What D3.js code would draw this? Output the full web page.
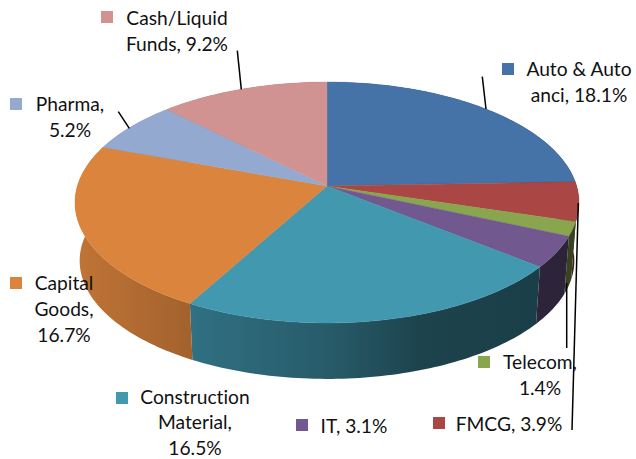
<!DOCTYPE html>
<html>
<head>
<meta charset="utf-8">
<script src="https://d3js.org/d3.v7.min.js"></script>
<style>
  html, body { margin: 0; padding: 0; background: #fff; }
  text { font-family: Lato, "Open Sans", sans-serif; font-size: 19.2px; fill: #111; font-variant-ligatures: none; }
</style>
</head>
<body>
<svg id="chart" width="636" height="459"></svg>
<script>
// sectors in drawing order, clockwise from 12 o'clock
var sectors = ['Auto & Auto anci', 'FMCG', 'Telecom', 'IT', 'Construction Material', 'Capital Goods', 'Pharma', 'Cash/Liquid Funds'];
var weights = [18.1, 3.9, 1.4, 3.1, 16.5, 16.7, 5.2, 9.2];
var colors = ['#4572a7', '#aa4643', '#89a54e', '#71588f', '#4198af', '#db843d', '#93a9cf', '#d19392'];

// label lines, text anchored in the middle, then the key square
var labelLines = [
  ['Auto & Auto', 'anci, 18.1%'],
  ['FMCG, 3.9%'],
  ['Telecom,', '1.4%'],
  ['IT, 3.1%'],
  ['Construction', 'Material,', '16.5%'],
  ['Capital', 'Goods,', '16.7%'],
  ['Pharma,', '5.2%'],
  ['Cash/Liquid', 'Funds, 9.2%']
];
var labelX = [579, 509, 540, 354, 195, 64, 70, 177];
var labelY = [76, 431, 369, 433, 403.5, 290, 111, 25];
var keyX = [502, 433, 478, 296, 116, 10, 10, 101];
var keyY = [63, 417, 356, 419, 392, 277, 98, 11];

// leader lines [x1, y1, x2, y2]
var leaders = [
  [482.3, 76.7, 486, 109],
  [578.3, 203, 572, 430],
  [566.7, 283, 566.7, 348],
  [118.3, 111.7, 129.3, 128.3],
  [237.3, 50.7, 241.3, 89.3]
];

var svg = d3.select('#chart');
var cx = 327;
var k = 0.137; // perspective

// top plate and bottom plate of the disc
var topPlate = { y0: 186, rx: 249.6, ry: 118.2 };
var bottomPlate = { y0: 244.5, rx: 245, ry: 116 };

function project(plate, a) {
  var u = Math.sin(a), v = -Math.cos(a);
  var d = 1 - k * v;
  return [cx + plate.rx * u / d, plate.y0 + plate.ry * v / d];
}

function rim(plate, a0, a1) {
  var n = Math.max(2, Math.ceil(Math.abs(a1 - a0) / 0.02));
  return d3.range(n + 1).map(function(i) {
    return project(plate, a0 + (a1 - a0) * i / n);
  });
}

var line = d3.line();
var arcs = d3.pie().sort(null)(weights);

// side lighting goes dark to the right
var wallShade = d3.scaleLinear()
  .domain([75, 192, 330, 420, 579])
  .range([0.88, 0.74, 0.60, 0.44, 0.40]);

var defs = svg.append('defs');
colors.forEach(function(c, i) {
  var g = defs.append('linearGradient')
    .attr('id', 'wall' + i)
    .attr('gradientUnits', 'userSpaceOnUse')
    .attr('x1', 75).attr('x2', 579).attr('y1', 0).attr('y2', 0);
  wallShade.domain().forEach(function(x) {
    var rgb = d3.rgb(c), s = wallShade(x);
    g.append('stop')
      .attr('offset', (x - 75) / 504)
      .attr('stop-color', d3.rgb(rgb.r * s, rgb.g * s, rgb.b * s));
  });
});

// walls first, the top plate covers whatever is behind
svg.append('g').selectAll('path')
  .data(arcs)
  .enter()
  .append('path')
  .attr('d', function(d) {
    var pts = rim(topPlate, d.startAngle, d.endAngle)
      .concat(rim(bottomPlate, d.endAngle, d.startAngle));
    return line(pts) + 'Z';
  })
  .attr('fill', function(d, i) { return 'url(#wall' + i + ')'; });

svg.append('g').selectAll('path')
  .data(arcs)
  .enter()
  .append('path')
  .attr('d', function(d) {
    var pts = [[cx, topPlate.y0]].concat(rim(topPlate, d.startAngle, d.endAngle));
    return line(pts) + 'Z';
  })
  .attr('fill', function(d, i) { return colors[i]; })
  .attr('stroke', function(d, i) { return colors[i]; })
  .attr('stroke-width', 0.4);

svg.append('g').selectAll('line')
  .data(leaders)
  .enter()
  .append('line')
  .attr('x1', function(d) { return d[0]; })
  .attr('y1', function(d) { return d[1]; })
  .attr('x2', function(d) { return d[2]; })
  .attr('y2', function(d) { return d[3]; })
  .attr('stroke', '#000')
  .attr('stroke-width', 1.5);

svg.append('g').selectAll('rect')
  .data(sectors)
  .enter()
  .append('rect')
  .attr('x', function(d, i) { return keyX[i]; })
  .attr('y', function(d, i) { return keyY[i]; })
  .attr('width', 12)
  .attr('height', 12)
  .attr('fill', function(d, i) { return colors[i]; });

var labels = svg.append('g').selectAll('text')
  .data(labelLines)
  .enter()
  .append('text')
  .attr('text-anchor', 'middle')
  .attr('transform', function(d, i) { return 'translate(' + labelX[i] + ',' + labelY[i] + ')'; });

labels.selectAll('tspan')
  .data(function(d) { return d; })
  .enter()
  .append('tspan')
  .attr('x', 0)
  .attr('y', function(d, i) { return i * 25.8; })
  .text(function(d) { return d; });
</script>
</body>
</html>
